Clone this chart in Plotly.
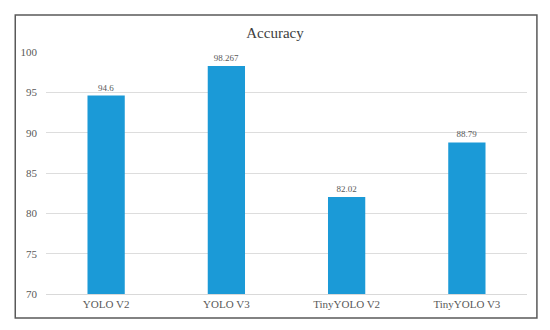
import plotly.graph_objects as go

categories = ["YOLO V2", "YOLO V3", "TinyYOLO V2", "TinyYOLO V3"]
accuracy = [94.6, 98.267, 82.02, 88.79]
labels = ["94.6", "98.267", "82.02", "88.79"]
y_ticks = [70, 75, 80, 85, 90, 95, 100]

W, H = 550, 330
OFF = 8  # default body margin of the html page
L, R, T, B = 42 - OFF, 23 + OFF, 52 - OFF, 36 + OFF
pw, ph = W - L - R, H - T - B

def px_x(x):
    return (x - OFF - L) / pw

def px_y(y):
    return (H - B - (y - OFF)) / ph

fig = go.Figure(go.Bar(
    x=categories, y=accuracy, text=labels, textposition="outside",
    textfont=dict(family="Liberation Serif", size=9, color="#595959"),
    marker=dict(color="#1B9AD7", line=dict(width=0)),
    cliponaxis=False, hoverinfo="skip",
))

fig.update_layout(
    width=W, height=H,
    margin=dict(l=L, r=R, t=T, b=B),
    paper_bgcolor="white", plot_bgcolor="white",
    bargap=0.69,
    showlegend=False,
    title=dict(text="Accuracy", x=(275 - OFF) / W, xanchor="center",
               y=1 - (33 - OFF) / H, yanchor="middle",
               font=dict(family="Liberation Serif", size=15, color="#404040")),
    font=dict(family="Liberation Serif", size=10, color="#595959"),
    xaxis=dict(showgrid=False, showline=True, linecolor="#d9d9d9", linewidth=1,
               ticks="", tickfont=dict(size=11, color="#595959")),
    yaxis=dict(range=[70, 100], tickvals=y_ticks, showgrid=True, gridcolor="#dddddd",
               gridwidth=1, zeroline=False, showline=False, ticks="",
               tickfont=dict(size=11, color="#595959"), ticklabelstandoff=8),
    shapes=[dict(type="rect", xref="paper", yref="paper",
                 x0=px_x(11), x1=px_x(537), y0=px_y(318), y1=px_y(15),
                 line=dict(color="#595959", width=1.5), fillcolor="rgba(0,0,0,0)")],
)

fig.write_html("out.html")
